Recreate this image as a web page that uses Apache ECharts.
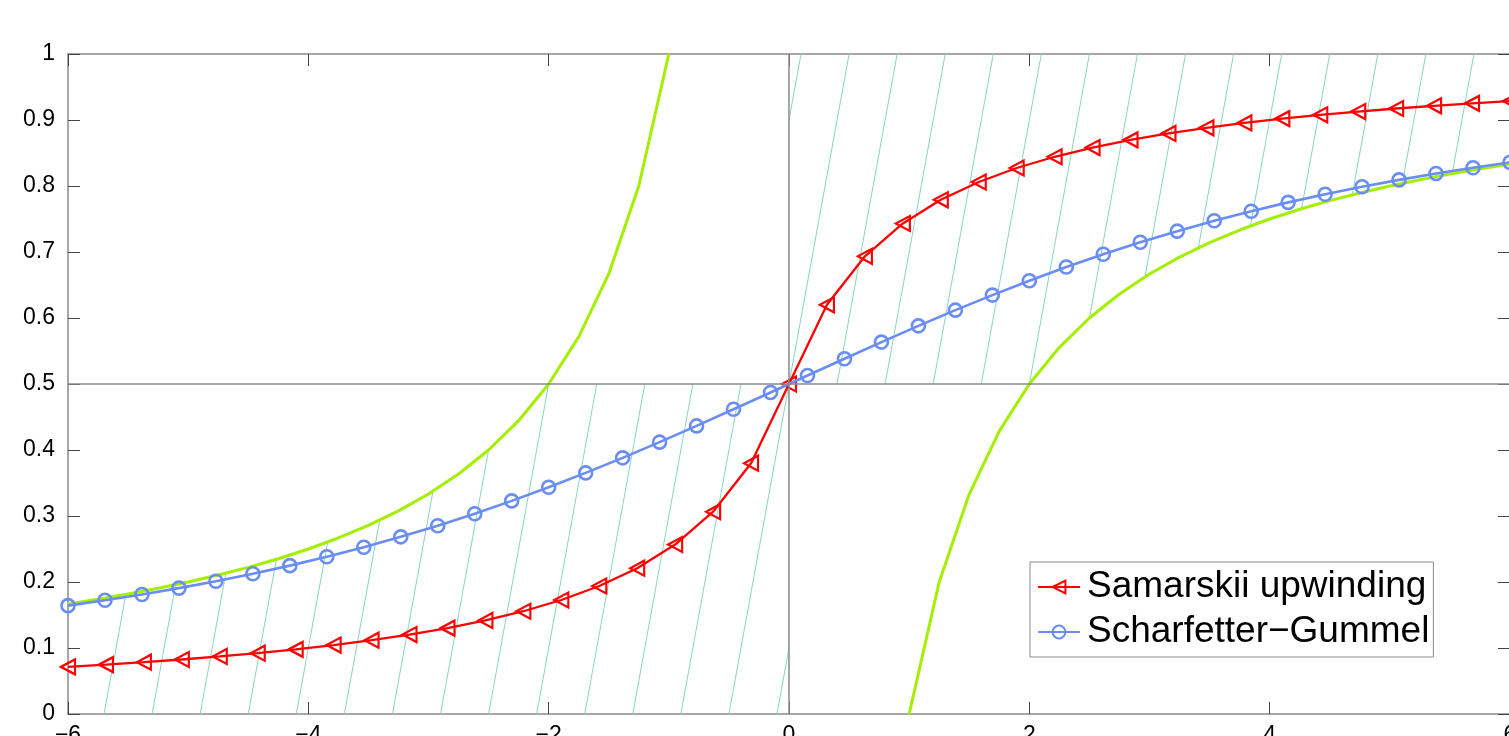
<!DOCTYPE html>
<html>
<head>
<meta charset="utf-8">
<script src="https://cdn.jsdelivr.net/npm/echarts@6/dist/echarts.min.js"></script>
<style>
  html, body { margin: 0; padding: 0; background: #fff; }
  #chart { width: 1509px; height: 736px; }
</style>
</head>
<body>
<div id="chart"></div>
<script>
// Samarskii upwinding (red, left triangles)
const redX = [-6, -5.6842, -5.3684, -5.0526, -4.7368, -4.4211, -4.1053, -3.7895, -3.4737, -3.1579,
  -2.8421, -2.5263, -2.2105, -1.8947, -1.5789, -1.2632, -0.9474, -0.6316, -0.3158, 0,
  0.3158, 0.6316, 0.9474, 1.2632, 1.5789, 1.8947, 2.2105, 2.5263, 2.8421, 3.1579,
  3.4737, 3.7895, 4.1053, 4.4211, 4.7368, 5.0526, 5.3684, 5.6842, 6]
const redY = [0.0714, 0.0748, 0.0785, 0.0826, 0.0872, 0.0922, 0.0979, 0.1044, 0.1118, 0.1203,
  0.1301, 0.1418, 0.1557, 0.1727, 0.1939, 0.2209, 0.2568, 0.3065, 0.3800, 0.5,
  0.6200, 0.6935, 0.7432, 0.7791, 0.8061, 0.8273, 0.8443, 0.8582, 0.8699, 0.8797,
  0.8882, 0.8956, 0.9021, 0.9078, 0.9128, 0.9174, 0.9215, 0.9252, 0.9286]

// Scharfetter-Gummel (blue, circles)
const blueX = [-6, -5.6923, -5.3846, -5.0769, -4.7692, -4.4615, -4.1538, -3.8462, -3.5385, -3.2308,
  -2.9231, -2.6154, -2.3077, -2, -1.6923, -1.3846, -1.0769, -0.7692, -0.4615, -0.1538,
  0.1538, 0.4615, 0.7692, 1.0769, 1.3846, 1.6923, 2, 2.3077, 2.6154, 2.9231,
  3.2308, 3.5385, 3.8462, 4.1538, 4.4615, 4.7692, 5.0769, 5.3846, 5.6923, 6]
const blueY = [0.1642, 0.1723, 0.1811, 0.1907, 0.2011, 0.2125, 0.2248, 0.2383, 0.2527, 0.2684,
  0.2853, 0.3034, 0.3229, 0.3435, 0.3653, 0.3881, 0.4119, 0.4365, 0.4617, 0.4872,
  0.5128, 0.5383, 0.5635, 0.5881, 0.6119, 0.6347, 0.6565, 0.6772, 0.6966, 0.7147,
  0.7316, 0.7473, 0.7618, 0.7752, 0.7875, 0.7989, 0.8093, 0.8189, 0.8277, 0.8358]

// green bounding curves
const greenLeftX = [-6, -5.75, -5.5, -5.25, -5, -4.75, -4.5, -4.25, -4, -3.75, -3.5,
  -3.25, -3, -2.75, -2.5, -2.25, -2, -1.75, -1.5, -1.25, -1]
const greenLeftY = [0.1667, 0.1739, 0.1818, 0.1905, 0.2, 0.2105, 0.2222, 0.2353, 0.25, 0.2667, 0.2857,
  0.3077, 0.3333, 0.3636, 0.4, 0.4444, 0.5, 0.5714, 0.6667, 0.8, 1.0]
const greenRightX = [1, 1.25, 1.5, 1.75, 2, 2.25, 2.5, 2.75, 3, 3.25, 3.5,
  3.75, 4, 4.25, 4.5, 4.75, 5, 5.25, 5.5, 5.75, 6]
const greenRightY = [0, 0.2, 0.3333, 0.4286, 0.5, 0.5556, 0.6, 0.6364, 0.6667, 0.6923, 0.7143,
  0.7333, 0.75, 0.7647, 0.7778, 0.7895, 0.8, 0.8095, 0.8182, 0.8261, 0.8333]

// hatch lines x = y + c
const hatchLower = [-5.7, -5.3, -4.9, -4.5, -4.1, -3.7, -3.3, -2.9, -2.5, -2.1, -1.7, -1.3, -0.9, -0.5, -0.1]
const hatchUpper = [-0.9, -0.5, -0.1, 0.3, 0.7, 1.1, 1.5, 1.9, 2.3, 2.7, 3.1, 3.5, 3.9, 4.3, 4.7]

const zip = (xs, ys) => xs.map((x, i) => [x, ys[i]])

function interp (xs, ys, x, below, above) {
  if (x < xs[0]) return below
  if (x > xs[xs.length - 1]) return above
  for (let i = 1; i < xs.length; i++) {
    if (x <= xs[i]) {
      const t = (x - xs[i - 1]) / (xs[i] - xs[i - 1])
      return ys[i - 1] + t * (ys[i] - ys[i - 1])
    }
  }
  return ys[ys.length - 1]
}
const gL = x => interp(greenLeftX, greenLeftY, x, -Infinity, Infinity)
const gR = x => interp(greenRightX, greenRightY, x, -Infinity, Infinity)

function bisect (f, a, b) {
  let fa = f(a)
  for (let k = 0; k < 50; k++) {
    const m = (a + b) / 2
    const fm = f(m)
    if ((fm > 0) === (fa > 0)) { a = m; fa = fm } else { b = m }
  }
  return (a + b) / 2
}

// clip one hatch line to its region (below/above the 0.5 line, bounded by the green curve)
function hatchSegment (c, upper) {
  if (!upper) {
    const y0 = Math.max(0, -6 - c)
    let y1 = Math.min(0.5, -c)
    if (y1 <= y0) return null
    const f = y => gL(y + c) - y
    if (f(y0) < 0) return null
    if (f(y1) < 0) y1 = bisect(f, y0, y1)
    return [y0, y1]
  } else {
    let y0 = Math.max(0.5, -c)
    const y1 = Math.min(1, 6 - c)
    if (y1 <= y0) return null
    const g = y => y - gR(y + c)
    if (g(y1) < 0) return null
    if (g(y0) < 0) y0 = bisect(g, y0, y1)
    return [y0, y1]
  }
}

const minus = v => (v < 0 ? '\u2212' + (-v) : String(v))

const chart = echarts.init(document.getElementById('chart'))
const labelFont = {
  fontFamily: 'Liberation Sans, Arial, sans-serif',
  fontSize: 23,
  color: '#000'
}
const frameLine = { show: true, onZero: false, lineStyle: { color: '#8a8a8a', width: 1.5 } }
const tickIn = { show: true, inside: true, length: 12, lineStyle: { color: '#444', width: 1 } }

const option = {
  animation: false,
  backgroundColor: '#fff',
  grid: {
    left: 68,
    top: 54,
    width: 1442,
    height: 660,
    containLabel: false,
    outerBoundsMode: 'none'
  },
  legend: {
    data: ['Samarskii upwinding', 'Scharfetter\u2212Gummel'],
    orient: 'vertical',
    left: 1030,
    top: 562,
    padding: [5, 4, 5, 7],
    itemGap: 5,
    itemWidth: 42,
    itemHeight: 16,
    backgroundColor: '#fff',
    borderColor: '#8a8a8a',
    borderWidth: 1,
    textStyle: {
      fontFamily: 'Liberation Sans, Arial, sans-serif',
      fontSize: 37,
      lineHeight: 40,
      color: '#000',
      padding: [0, 0, 0, 2]
    }
  },
  xAxis: [
    {
      type: 'value', min: -6, max: 6, interval: 2,
      axisLine: frameLine, axisTick: tickIn, splitLine: { show: false },
      axisLabel: Object.assign({ margin: 10, formatter: minus }, labelFont)
    },
    {
      type: 'value', position: 'top', min: -6, max: 6, interval: 2,
      axisLine: frameLine, axisTick: tickIn, splitLine: { show: false },
      axisLabel: { show: false }
    }
  ],
  yAxis: [
    {
      type: 'value', min: 0, max: 1, interval: 0.1,
      axisLine: frameLine, axisTick: tickIn, splitLine: { show: false },
      axisLabel: Object.assign({ margin: 13 }, labelFont)
    },
    {
      type: 'value', position: 'right', min: 0, max: 1, interval: 0.1,
      axisLine: frameLine, axisTick: tickIn, splitLine: { show: false },
      axisLabel: { show: false }
    }
  ],
  series: [
    {
      type: 'custom',
      name: 'hatch',
      z: 1,
      silent: true,
      data: hatchLower.map(c => [c, 0]).concat(hatchUpper.map(c => [c, 1])),
      renderItem: function (params, api) {
        const c = api.value(0)
        const seg = hatchSegment(c, api.value(1) === 1)
        if (!seg) return null
        const p1 = api.coord([seg[0] + c, seg[0]])
        const p2 = api.coord([seg[1] + c, seg[1]])
        return {
          type: 'line',
          shape: { x1: p1[0], y1: p1[1], x2: p2[0], y2: p2[1] },
          style: { stroke: '#86d6c2', lineWidth: 1 }
        }
      }
    },
    {
      type: 'line',
      name: 'greenLeft',
      z: 2,
      data: zip(greenLeftX, greenLeftY),
      showSymbol: false,
      symbol: 'none',
      lineStyle: { color: '#a4ee00', width: 3 },
      markLine: {
        silent: true,
        symbol: 'none',
        label: { show: false },
        lineStyle: { color: '#8a8a8a', width: 1.5, type: 'solid' },
        data: [{ xAxis: 0 }, { yAxis: 0.5 }]
      }
    },
    {
      type: 'line',
      name: 'greenRight',
      z: 2,
      data: zip(greenRightX, greenRightY),
      showSymbol: false,
      symbol: 'none',
      lineStyle: { color: '#a4ee00', width: 3 }
    },
    {
      type: 'line',
      name: 'Samarskii upwinding',
      z: 3,
      data: zip(redX, redY),
      symbol: 'triangle',
      symbolRotate: 90,
      symbolSize: [15, 14],
      lineStyle: { color: '#ff0000', width: 2.3 },
      itemStyle: { color: 'rgba(255,255,255,0)', borderColor: '#ff0000', borderWidth: 2.2 }
    },
    {
      type: 'line',
      name: 'Scharfetter\u2212Gummel',
      z: 4,
      data: zip(blueX, blueY),
      symbol: 'circle',
      symbolSize: 13,
      lineStyle: { color: '#6a8df5', width: 2.6 },
      itemStyle: { color: 'rgba(255,255,255,0)', borderColor: '#6a8df5', borderWidth: 2.6 }
    }
  ]
}
chart.setOption(option)
</script>
</body>
</html>
